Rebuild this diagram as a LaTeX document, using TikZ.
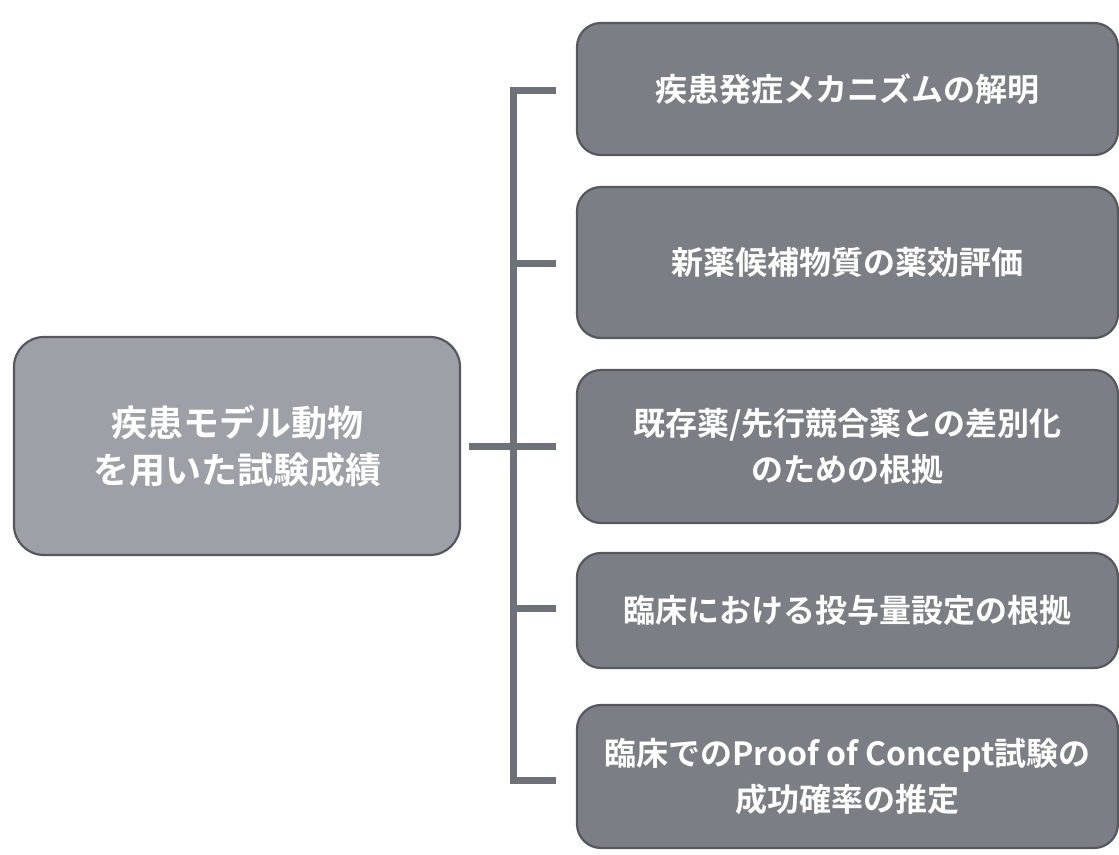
\documentclass[tikz,border=0pt]{standalone}
\usepackage{fontspec}
\newfontfamily\jp{Noto Sans CJK JP}[BoldFont={* Bold}]
\definecolor{rfill}{HTML}{7B7E85}
\definecolor{lfill}{HTML}{9DA0A7}
\definecolor{edge}{HTML}{56585D}
\definecolor{conncol}{HTML}{6F7178}
\begin{document}
\begin{tikzpicture}[x=1pt,y=-1pt,
  rbox/.style={draw=edge, line width=2.2pt, fill=rfill, rounded corners=24pt, text=white,
    font=\jp\bfseries\fontsize{32}{46}\selectfont, align=center, inner sep=0pt, minimum width=541pt},
  lbox/.style={draw=edge, line width=2.2pt, fill=lfill, rounded corners=30pt, text=white,
    font=\jp\bfseries\fontsize{36}{47}\selectfont, align=center, inner sep=0pt,
    minimum width=446pt, minimum height=218pt},
  conn/.style={draw=conncol, line width=7pt, line join=miter, line cap=butt}]
\useasboundingbox (0,0) rectangle (1119,854);
\fill[white] (0,0) rectangle (1119,854);

\node[lbox] (L) at (237,446) {疾患モデル動物\\を用いた試験成績};

\node[rbox, minimum height=132pt] (b1) at (847.5,89) {疾患発症メカニズムの解明};
\node[rbox, minimum height=151pt] (b2) at (847.5,262.5) {新薬候補物質の薬効評価};
\node[rbox, minimum height=153pt] (b3) at (847.5,446.5) {既存薬/先行競合薬との差別化\\のための根拠};
\node[rbox, minimum height=115pt] (b4) at (847.5,610.5) {臨床における投与量設定の根拠};
\node[rbox, minimum height=143pt] (b5) at (847.5,776.5) {臨床でのProof of Concept試験の\\成功確率の推定};

\coordinate (s1) at (513,90);
\coordinate (s2) at (513,263);
\coordinate (s3) at (513,446);
\coordinate (s4) at (513,608);
\coordinate (s5) at (513,780);
\coordinate (t1) at (556,90);
\coordinate (t2) at (556,263);
\coordinate (t3) at (556,446);
\coordinate (t4) at (556,608);
\coordinate (t5) at (556,780);
\coordinate (lc) at (469,446);

\draw[conn] (t1) -- (s1) -- (s5) -- (t5);
\draw[conn] (s2) -- (t2);
\draw[conn] (lc) -- (t3);
\draw[conn] (s4) -- (t4);
\end{tikzpicture}
\end{document}
